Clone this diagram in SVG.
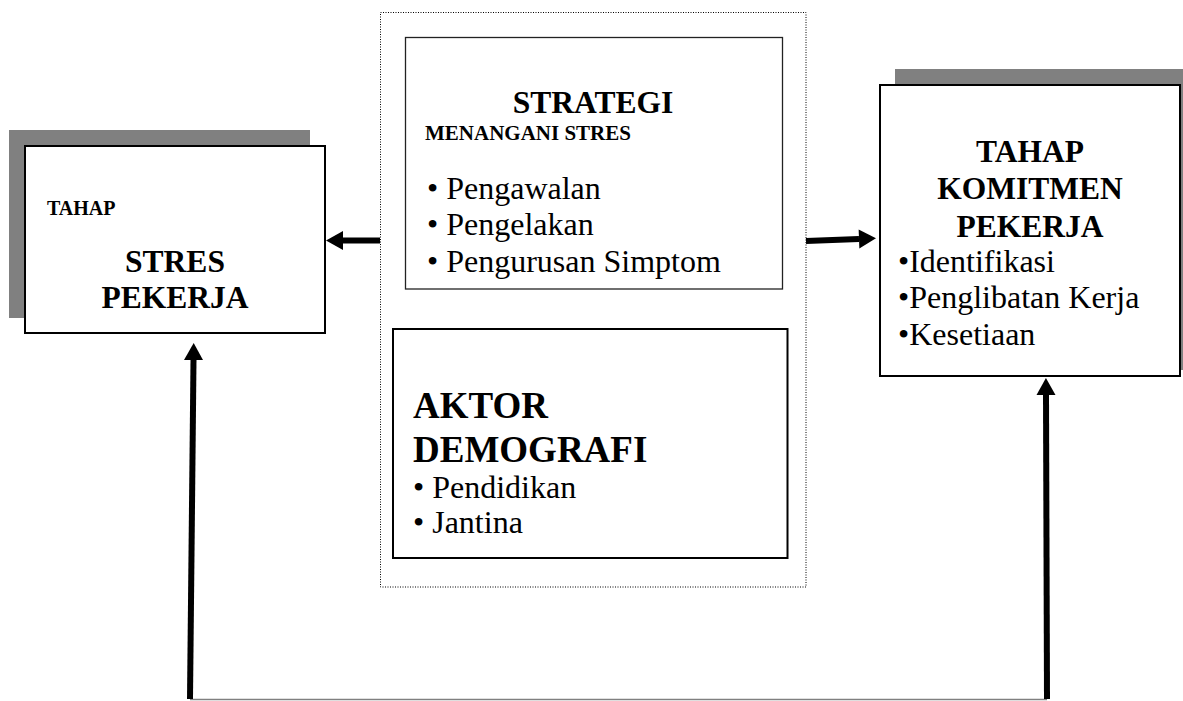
<svg xmlns="http://www.w3.org/2000/svg" width="1183" height="701" viewBox="0 0 1183 701">
<defs>
<marker id="ah" markerUnits="userSpaceOnUse" markerWidth="18" markerHeight="19" refX="0" refY="9.5" orient="auto" overflow="visible">
<path d="M0,0 L17,9.5 L0,19 z" fill="#000"/>
</marker>
<style>
.shadow{fill:#808080;stroke:none}
.box{fill:#fff;stroke:#000;stroke-width:2}
.thin{fill:#fff;stroke:#222;stroke-width:1.3}
.dots{fill:none;stroke:#000;stroke-width:1;stroke-dasharray:1 1.5}
.b{font-family:"Liberation Serif","Times New Roman",serif;font-weight:bold;fill:#000}
.r{font-family:"Liberation Serif","Times New Roman",serif;fill:#000}
.shaft{stroke:#000;stroke-width:6;fill:none}
</style>
</defs>
<rect width="1183" height="701" fill="#fff"/>

<g id="group-frame">
<rect class="dots" x="380.5" y="12.5" width="425.5" height="574.5"/>
</g>

<g id="node-stres">
<rect class="shadow" x="9" y="130" width="301" height="188"/>
<rect class="box" x="25" y="146" width="300" height="187"/>
<text class="b" x="47" y="215" font-size="20">TAHAP</text>
<text class="b" x="175" y="272" font-size="31.5" text-anchor="middle">STRES</text>
<text class="b" x="175" y="308" font-size="31.5" text-anchor="middle">PEKERJA</text>
</g>

<g id="node-strategi">
<rect class="thin" x="405.5" y="37.5" width="377" height="251.5"/>
<text class="b" x="593" y="113" font-size="31.5" text-anchor="middle">STRATEGI</text>
<text class="b" x="425" y="140" font-size="21">MENANGANI STRES</text>
<text class="r" x="427" y="199" font-size="32">• Pengawalan</text>
<text class="r" x="427" y="235" font-size="32">• Pengelakan</text>
<text class="r" x="427" y="272" font-size="32">• Pengurusan Simptom</text>
</g>

<g id="node-demografi">
<rect class="box" x="393" y="329" width="394.5" height="229"/>
<text class="b" x="413" y="418" font-size="37">AKTOR</text>
<text class="b" x="413" y="462" font-size="37">DEMOGRAFI</text>
<text class="r" x="413" y="498" font-size="32">• Pendidikan</text>
<text class="r" x="413" y="533" font-size="32">• Jantina</text>
</g>

<g id="node-komitmen">
<rect class="shadow" x="895" y="69" width="288" height="301"/>
<rect class="box" x="880" y="85" width="300" height="291"/>
<text class="b" x="1030" y="162" font-size="31.5" text-anchor="middle">TAHAP</text>
<text class="b" x="1030" y="199" font-size="31.5" text-anchor="middle">KOMITMEN</text>
<text class="b" x="1030" y="237" font-size="31.5" text-anchor="middle">PEKERJA</text>
<text class="r" x="898" y="272" font-size="32">•Identifikasi</text>
<text class="r" x="898" y="308" font-size="32">•Penglibatan Kerja</text>
<text class="r" x="898" y="345" font-size="32">•Kesetiaan</text>
</g>

<g id="connectors">
<line class="shaft" x1="380" y1="240.5" x2="343" y2="240.5" marker-end="url(#ah)"/>
<line class="shaft" x1="806" y1="241" x2="859" y2="239" marker-end="url(#ah)"/>
<line x1="190" y1="699.5" x2="1047" y2="699.5" stroke="#808080" stroke-width="1.5"/>
<line class="shaft" x1="190" y1="699" x2="193.5" y2="360" marker-end="url(#ah)"/>
<line class="shaft" x1="1047" y1="699" x2="1046" y2="395" marker-end="url(#ah)"/>
</g>
</svg>
